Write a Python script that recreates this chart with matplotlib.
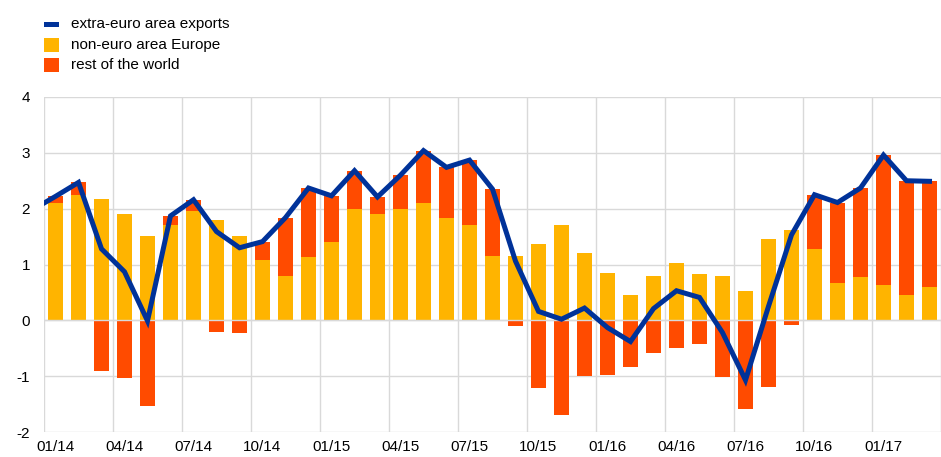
import matplotlib
matplotlib.use("Agg")
import matplotlib.pyplot as plt
from matplotlib.patches import Rectangle
import numpy as np

# monthly data, 01/14 .. 03/17
europe = [2.11, 2.25, 2.17, 1.90, 1.51, 1.71, 1.96, 1.79, 1.51, 1.08, 0.80, 1.13,
          1.40, 1.99, 1.90, 1.99, 2.10, 1.83, 1.71, 1.16, 1.16, 1.37, 1.71, 1.20,
          0.84, 0.45, 0.79, 1.02, 0.83, 0.79, 0.52, 1.45, 1.61, 1.28, 0.66, 0.78,
          0.63, 0.45, 0.59]
rest = [0.11, 0.22, -0.90, -1.04, -1.53, 0.16, 0.20, -0.21, -0.23, 0.33, 1.04, 1.24,
        0.83, 0.69, 0.31, 0.61, 0.94, 0.91, 1.16, 1.19, -0.10, -1.21, -1.70, -0.99,
        -0.98, -0.83, -0.59, -0.50, -0.43, -1.01, -1.59, -1.20, -0.08, 0.97, 1.45, 1.59,
        2.33, 2.05, 1.90]
# line starts one month earlier (12/13), clipped at the left edge
exports = [1.98,
           2.22, 2.47, 1.28, 0.87, -0.01, 1.87, 2.16, 1.59, 1.30, 1.41, 1.84, 2.37,
           2.23, 2.68, 2.21, 2.60, 3.04, 2.74, 2.87, 2.35, 1.06, 0.16, 0.02, 0.22,
           -0.13, -0.38, 0.21, 0.53, 0.41, -0.22, -1.07, 0.25, 1.53, 2.25, 2.11, 2.37,
           2.96, 2.50, 2.49]
tick_labels = ["01/14", "04/14", "07/14", "10/14", "01/15", "04/15", "07/15",
               "10/15", "01/16", "04/16", "07/16", "10/16", "01/17"]

YELLOW = "#FFB400"
RED = "#FF4B00"
BLUE = "#003299"
GRID = "#d9d9d9"

plt.rcParams["font.family"] = ["Liberation Sans", "DejaVu Sans"]
plt.rcParams["axes.unicode_minus"] = False

W, H = 941, 457
fig = plt.figure(figsize=(W / 100, H / 100), dpi=100)
ax = fig.add_axes([44 / W, (H - 432) / H, 1 - 44 / W, (432 - 97) / H])

eu = np.array(europe)
rw = np.array(rest)
x = np.arange(len(eu))
bw = 0.67

ax.bar(x, eu, width=bw, color=YELLOW, zorder=2)
ax.bar(x, rw, width=bw, bottom=np.where(rw > 0, eu, 0), color=RED, zorder=2)
ax.axhline(0, color=GRID, lw=1, zorder=2.5)
ax.plot(np.arange(-1, len(exports) - 1), exports, color=BLUE, lw=3.6,
        solid_joinstyle="miter", zorder=3)

ax.set_xlim(-0.5, 38.11)
ax.set_ylim(-2, 4)
ax.set_yticks(range(-2, 5))
ax.set_xticks(np.arange(0, len(eu), 3))
ax.set_xticklabels(tick_labels)
ax.set_xticks(np.arange(-0.5, len(eu), 3), minor=True)

ax.grid(axis="y", which="major", color=GRID, lw=1, zorder=0)
ax.grid(axis="x", which="minor", color=GRID, lw=1, zorder=0)
ax.tick_params(axis="both", which="both", length=0, labelsize=11, colors="#000000")
ax.tick_params(axis="y", pad=10)
ax.tick_params(axis="x", pad=6)
for sp in ax.spines.values():
    sp.set_visible(False)

# legend, drawn by hand in pixel positions
items = [("extra-euro area exports", BLUE, "line", 24),
         ("non-euro area Europe", YELLOW, "box", 45),
         ("rest of the world", RED, "box", 65)]
for label, col, kind, ypx in items:
    hpx = 5 if kind == "line" else 13
    fig.add_artist(Rectangle((44 / W, 1 - (ypx + hpx / 2) / H), 15 / W, hpx / H,
                             transform=fig.transFigure, color=col, lw=0))
    fig.text(71 / W, 1 - ypx / H, label, fontsize=11, va="center", ha="left")

fig.savefig("out.png", dpi=100)
